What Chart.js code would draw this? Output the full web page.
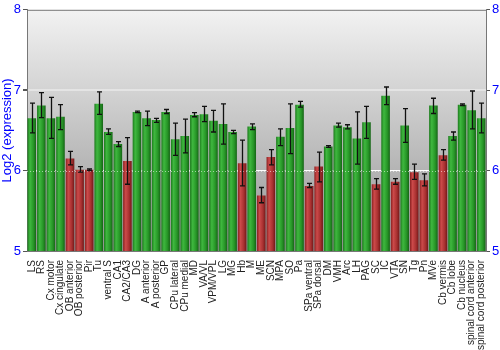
<!DOCTYPE html>
<html>
<head>
<meta charset="utf-8">
<script src="https://cdn.jsdelivr.net/npm/chart.js@4"></script>
<style>
  html, body { margin: 0; padding: 0; background: #fff; }
  #wrap { width: 500px; height: 350px; }
</style>
</head>
<body>
<div id="wrap"><canvas id="chart" width="500" height="350"></canvas></div>
<script>
const regions = ['LS', 'RS', 'Cx motor', 'Cx cingulate', 'OB anterior', 'OB posterior', 'Pir', 'Tu',
  'ventral S', 'CA1', 'CA2/CA3', 'DG', 'A anterior', 'A posterior', 'GP', 'CPu lateral', 'CPu medial',
  'MD', 'VA/VL', 'VPM/VPL', 'LG', 'MG', 'Hb', 'M', 'ME', 'SCN', 'MPA', 'SO', 'Pa', 'SPa ventral',
  'SPa dorsal', 'DM', 'VMH', 'Arc', 'LH', 'PAG', 'SC', 'IC', 'VTA', 'SN', 'Tg', 'Pn', 'MVe',
  'Cb vermis', 'Cb lobe', 'Cb nucleus', 'spinal cord anterior', 'spinal cord posterior'];

const expression = [6.65, 6.81, 6.65, 6.67, 6.15, 6.01, 6.01, 6.83, 6.48, 6.33, 6.12, 6.73, 6.65, 6.63,
  6.73, 6.39, 6.43, 6.69, 6.70, 6.62, 6.58, 6.48, 6.09, 6.55, 5.69, 6.17, 6.42, 6.53, 6.82, 5.81,
  6.05, 6.30, 6.56, 6.54, 6.40, 6.60, 5.83, 6.93, 5.86, 6.56, 5.98, 5.88, 6.81, 6.19, 6.43, 6.82,
  6.75, 6.65];

const errHigh = [6.84, 6.97, 6.91, 6.82, 6.24, 6.05, 6.02, 6.98, 6.52, 6.36, 6.41, 6.74, 6.74, 6.65,
  6.76, 6.59, 6.64, 6.72, 6.80, 6.75, 6.83, 6.50, 6.38, 6.58, 5.79, 6.26, 6.52, 6.83, 6.86, 5.84,
  6.23, 6.31, 6.59, 6.57, 6.73, 6.80, 5.90, 7.04, 5.90, 6.77, 6.08, 5.96, 6.90, 6.26, 6.48, 6.83,
  6.99, 6.84];

const errLow = [6.47, 6.66, 6.40, 6.51, 6.07, 5.98, 6.00, 6.70, 6.45, 6.30, 5.83, 6.72, 6.56, 6.60,
  6.71, 6.19, 6.22, 6.67, 6.61, 6.48, 6.33, 6.46, 5.81, 6.51, 5.60, 6.07, 6.31, 6.21, 6.79, 5.79,
  5.86, 6.29, 6.54, 6.52, 6.08, 6.40, 5.77, 6.82, 5.83, 6.35, 5.89, 5.81, 6.71, 6.13, 6.38, 6.81,
  6.52, 6.47];

// regions drawn in red
const lowRegions = ['OB anterior', 'OB posterior', 'Pir', 'CA2/CA3', 'Hb', 'ME', 'SCN', 'SPa ventral',
  'SPa dorsal', 'SC', 'VTA', 'Tg', 'Pn', 'Cb vermis'];

const yTicks = [5, 6, 7, 8];

const BAR_PCT = 0.9;
const FONT = '"Liberation Sans", Arial, sans-serif';

function barFill(c) {
  const chart = c.chart;
  const red = lowRegions.includes(regions[c.dataIndex]);
  if (!chart.chartArea) return red ? '#b03434' : '#2e9e2e';
  const xs = chart.scales.x;
  const cx = xs.getPixelForValue(c.dataIndex);
  const w = xs.width / regions.length * BAR_PCT;
  const g = chart.ctx.createLinearGradient(cx - w / 2, 0, cx + w / 2, 0);
  if (red) {
    g.addColorStop(0, '#8a2020');
    g.addColorStop(0.3, '#cc4a4a');
    g.addColorStop(0.7, '#a83030');
    g.addColorStop(1, '#701818');
  } else {
    g.addColorStop(0, '#1d7a1d');
    g.addColorStop(0.3, '#3fb83f');
    g.addColorStop(0.7, '#279627');
    g.addColorStop(1, '#166416');
  }
  return g;
}

const plotBackground = {
  id: 'plotBackground',
  beforeDraw(chart) {
    const { ctx, chartArea: a } = chart;
    const g = ctx.createLinearGradient(0, a.top, 0, a.bottom);
    g.addColorStop(0, '#f2f2f2');
    g.addColorStop(1, '#959595');
    ctx.save();
    ctx.fillStyle = g;
    ctx.fillRect(a.left, a.top, a.right - a.left, a.bottom - a.top);
    ctx.restore();
  },
  afterDraw(chart) {
    const { ctx, chartArea: a } = chart;
    ctx.save();
    ctx.strokeStyle = '#777';
    ctx.lineWidth = 1;
    ctx.beginPath();
    ctx.moveTo(a.left, a.top + 0.5);
    ctx.lineTo(a.right, a.top + 0.5);
    ctx.stroke();
    ctx.restore();
  }
};

const errorBars = {
  id: 'errorBars',
  afterDatasetsDraw(chart) {
    const { ctx } = chart;
    const ys = chart.scales.y;
    const meta = chart.getDatasetMeta(0);
    ctx.save();
    // faint line at 6 running across the bars
    const y6 = Math.round(ys.getPixelForValue(6)) + 0.5;
    ctx.strokeStyle = 'rgba(255,255,255,0.55)';
    ctx.setLineDash([1, 2]);
    ctx.beginPath();
    ctx.moveTo(chart.chartArea.left, y6);
    ctx.lineTo(chart.chartArea.right, y6);
    ctx.stroke();
    ctx.setLineDash([]);

    ctx.strokeStyle = '#111';
    ctx.lineWidth = 1.3;
    meta.data.forEach((bar, i) => {
      const x = Math.round(bar.x) + 0.5;
      const top = ys.getPixelForValue(errHigh[i]);
      const bot = ys.getPixelForValue(errLow[i]);
      ctx.beginPath();
      ctx.moveTo(x, top);
      ctx.lineTo(x, bot);
      ctx.moveTo(x - 2.5, top);
      ctx.lineTo(x + 2.5, top);
      ctx.moveTo(x - 2.5, bot);
      ctx.lineTo(x + 2.5, bot);
      ctx.stroke();
    });
    ctx.restore();
  }
};

new Chart(document.getElementById('chart'), {
  type: 'bar',
  data: {
    labels: regions,
    datasets: [{
      data: expression,
      backgroundColor: barFill,
      borderWidth: 0,
      barPercentage: BAR_PCT,
      categoryPercentage: 1.0
    }]
  },
  options: {
    responsive: false,
    animation: false,
    layout: { padding: { top: 9, right: 0, left: 0, bottom: 0 } },
    plugins: {
      legend: { display: false },
      tooltip: { enabled: false }
    },
    scales: {
      x: {
        grid: { display: false },
        border: { color: '#777' },
        ticks: {
          autoSkip: false,
          maxRotation: 90,
          minRotation: 90,
          color: '#222',
          padding: 1,
          font: { family: FONT, size: 10 }
        },
        afterFit(scale) { scale.height = 99; }
      },
      y: {
        position: 'left',
        min: 5,
        max: 8,
        afterBuildTicks(scale) { scale.ticks = yTicks.map(v => ({ value: v })); },
        ticks: { color: '#0000ff', padding: 2, font: { family: FONT, size: 13 } },
        title: {
          display: true,
          text: 'Log2 (expression)',
          color: '#0000ff',
          padding: 0,
          font: { family: FONT, size: 13 }
        },
        grid: {
          color: c => c.tick.value === 7 ? '#e4e4e4' : (c.tick.value === 6 ? '#ffffff' : 'rgba(0,0,0,0)'),
          lineWidth: c => c.tick.value === 7 ? 2 : 1,
          tickColor: '#555',
          tickLength: 4
        },
        border: { color: '#777' },
        afterFit(scale) { scale.width = 27; }
      },
      y2: {
        position: 'right',
        min: 5,
        max: 8,
        afterBuildTicks(scale) { scale.ticks = yTicks.map(v => ({ value: v })); },
        ticks: { color: '#0000ff', padding: 2, font: { family: FONT, size: 13 } },
        grid: { drawOnChartArea: false, tickColor: '#555', tickLength: 4 },
        border: { color: '#777' },
        afterFit(scale) { scale.width = 14; }
      }
    }
  },
  plugins: [plotBackground, errorBars]
});
</script>
</body>
</html>
